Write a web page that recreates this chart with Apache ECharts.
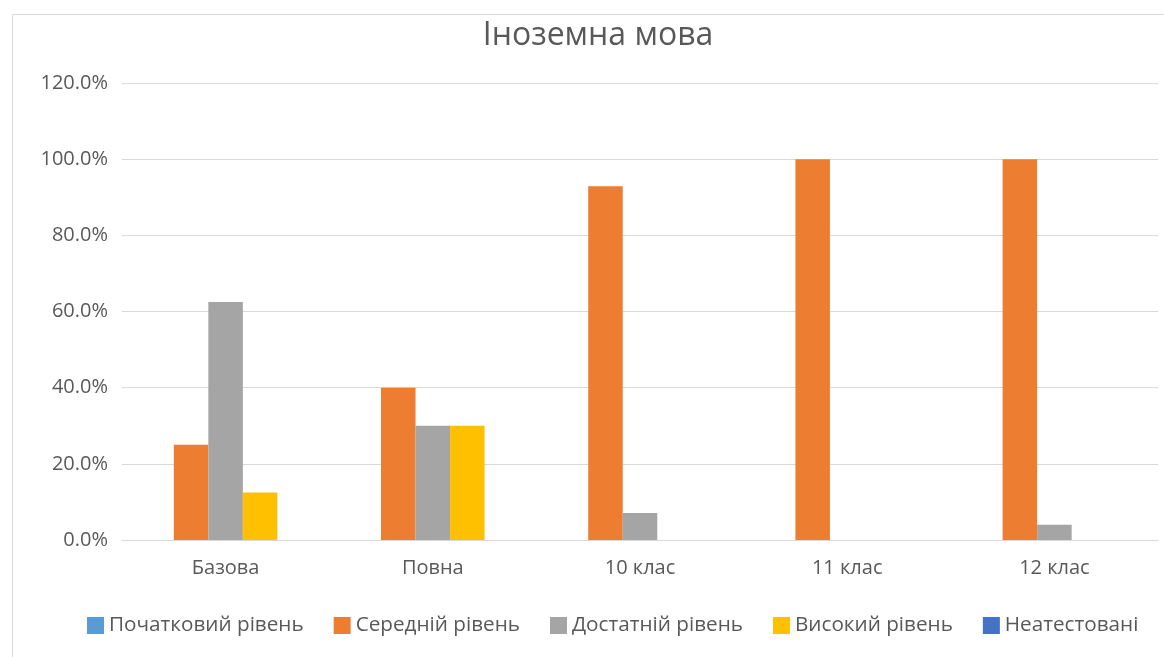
<!DOCTYPE html>
<html>
<head>
<meta charset="utf-8">
<script src="https://cdn.jsdelivr.net/npm/echarts@6/dist/echarts.min.js"></script>
<style>
html,body{margin:0;padding:0;background:#fff;}
#chart{width:1164px;height:657px;}
</style>
</head>
<body>
<div id="chart"></div>
<script>
const title = 'Іноземна мова';
const categories = ['Базова', 'Повна', '10 клас', '11 клас', '12 клас'];
const seriesNames = ['Початковий рівень', 'Середній рівень', 'Достатній рівень', 'Високий рівень', 'Неатестовані'];
const initialLevel = [0, 0, 0, 0, 0];
const averageLevel = [25, 40, 92.9, 100, 100];
const sufficientLevel = [62.5, 30, 7.1, 0, 4];
const highLevel = [12.5, 30, 0, 0, 0];
const notCertified = [0, 0, 0, 0, 0];
const yTicks = { min: 0, max: 120, interval: 20 };

const colors = ['#5B9BD5', '#ED7D31', '#A5A5A5', '#FFC000', '#4472C4'];
const values = [initialLevel, averageLevel, sufficientLevel, highLevel, notCertified];
const font = '"Open Sans", "Noto Sans", sans-serif';

const chart = echarts.init(document.getElementById('chart'), null, { renderer: 'canvas' });
chart.setOption({
  backgroundColor: '#ffffff',
  animation: false,
  color: colors,
  graphic: [{
    type: 'rect',
    left: 10, top: 12,
    shape: { width: 1200, height: 700 },
    style: { fill: 'none', stroke: '#D9D9D9', lineWidth: 1 },
    silent: true, z: -1
  }],
  title: {
    text: title,
    left: 593, top: 15,
    textAlign: 'center',
    textStyle: { fontFamily: font, fontSize: 32, fontWeight: 'normal', color: '#595959' }
  },
  legend: {
    left: 87, top: 615, padding: 0,
    itemWidth: 17, itemHeight: 17, itemGap: 30,
    icon: 'rect',
    textStyle: { fontFamily: font, fontSize: 20.7, color: '#595959' },
    data: seriesNames
  },
  grid: { left: 122, right: 6, top: 83, bottom: 117, containLabel: false },
  xAxis: {
    type: 'category',
    data: categories,
    axisLine: { show: true, lineStyle: { color: '#D9D9D9' } },
    axisTick: { show: false },
    axisLabel: { fontFamily: font, fontSize: 20, color: '#595959', margin: 18 }
  },
  yAxis: {
    type: 'value',
    min: yTicks.min, max: yTicks.max, interval: yTicks.interval,
    axisLine: { show: false },
    axisTick: { show: false },
    splitLine: { lineStyle: { color: '#D9D9D9', width: 1 } },
    axisLabel: { fontFamily: font, fontSize: 20, color: '#595959', margin: 14,
      formatter: v => v.toFixed(1) + '%' }
  },
  series: seriesNames.map((name, i) => ({
    name: name,
    type: 'bar',
    data: values[i],
    barGap: '0%',
    barCategoryGap: '16.7%',
    itemStyle: { color: colors[i] }
  }))
});
</script>
</body>
</html>
